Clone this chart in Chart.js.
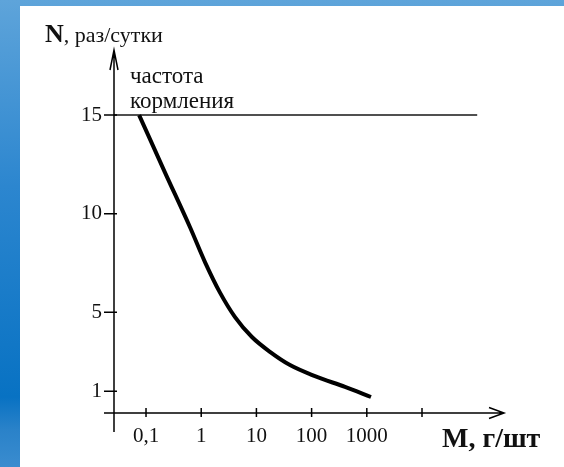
<!DOCTYPE html>
<html>
<head>
<meta charset="utf-8">
<script src="https://cdn.jsdelivr.net/npm/chart.js@4.4.1/dist/chart.umd.min.js"></script>
<style>
  html, body { margin: 0; padding: 0; }
  body {
    width: 564px; height: 467px; overflow: hidden; position: relative;
    background: linear-gradient(to bottom, #5ea4da 0%, #2c86cf 40%, #0872c3 85%, #2a82c9 92%, #3a8ccf 100%);
  }
  #wrap { position: absolute; left: 20px; top: 6px; width: 544px; height: 461px; background: #fff; }
</style>
</head>
<body>
<div id="wrap"><canvas id="chart" width="544" height="461"></canvas></div>
<script>
// Feeding frequency vs fish mass (log scale)
const massValues = [0.075, 0.22, 0.63, 1.17, 2.19, 4.1, 8.3, 17.6, 40.6, 115, 403, 1190];
const feedsPerDay = [15, 12.1, 9.3, 7.55, 6.0, 4.76, 3.75, 3.0, 2.33, 1.77, 1.22, 0.71];

// upper limit line "частота кормления"
const limitMass = [0.0263, 100000];
const limitFeeds = [15, 15];

const xTickValues = [0.1, 1, 10, 100, 1000, 10000];
const xTickLabels = ['0,1', '1', '10', '100', '1000', ''];
const yTickValues = [1, 5, 10, 15];
const yTickLabels = ['1', '5', '10', '15'];

const X_MIN = 0.0263, X_MAX = 305900;
const Y_MIN = -0.101, Y_MAX = 18.3;

const FONT = "'Liberation Serif', 'Times New Roman', serif";
const TEXT = '#111';

const axesPlugin = {
  id: 'axesPlugin',
  afterDraw(chart) {
    const ctx = chart.ctx;
    const a = chart.chartArea;
    const xs = chart.scales.x, ys = chart.scales.y;
    ctx.save();
    ctx.strokeStyle = '#000';
    ctx.lineWidth = 1.5;
    ctx.beginPath();
    // x axis + arrow
    ctx.moveTo(a.left - 10, a.bottom); ctx.lineTo(a.right, a.bottom);
    ctx.moveTo(a.right - 15, a.bottom - 5.5); ctx.lineTo(a.right, a.bottom); ctx.lineTo(a.right - 15, a.bottom + 5.5);
    // y axis + arrow
    ctx.moveTo(a.left, a.bottom + 19); ctx.lineTo(a.left, a.top);
    ctx.moveTo(a.left - 4, a.top + 20); ctx.lineTo(a.left, a.top); ctx.lineTo(a.left + 4, a.top + 20);
    // tick marks
    xs.ticks.forEach(t => {
      const px = xs.getPixelForValue(t.value);
      ctx.moveTo(px, a.bottom - 5); ctx.lineTo(px, a.bottom + 4);
    });
    ys.ticks.forEach(t => {
      const py = ys.getPixelForValue(t.value);
      ctx.moveTo(a.left - 10, py); ctx.lineTo(a.left + 3, py);
    });
    ctx.stroke();

    // titles
    ctx.fillStyle = TEXT;
    ctx.textBaseline = 'alphabetic';
    ctx.textAlign = 'left';
    ctx.font = 'bold 26px ' + FONT;
    ctx.fillText('N', 25, 36);
    const nw = ctx.measureText('N').width;
    ctx.font = '22px ' + FONT;
    ctx.fillText(', раз/сутки', 25 + nw, 36);

    ctx.font = '23px ' + FONT;
    ctx.fillText('частота', 110, 77);
    ctx.fillText('кормления', 110, 102);

    ctx.font = 'bold 28px ' + FONT;
    ctx.fillText('M, г/шт', 422, 441);
    ctx.restore();
  }
};

new Chart(document.getElementById('chart'), {
  type: 'line',
  data: {
    datasets: [
      {
        label: 'N',
        data: massValues.map((m, i) => ({ x: m, y: feedsPerDay[i] })),
        borderColor: '#000',
        borderWidth: 4,
        pointRadius: 0,
        cubicInterpolationMode: 'monotone'
      },
      {
        label: 'limit',
        data: limitMass.map((m, i) => ({ x: m, y: limitFeeds[i] })),
        borderColor: '#505050',
        borderWidth: 2,
        pointRadius: 0
      }
    ]
  },
  options: {
    responsive: false,
    animation: false,
    devicePixelRatio: 1,
    layout: { padding: { left: 0, top: 44, right: 60, bottom: 0 } },
    plugins: { legend: { display: false }, tooltip: { enabled: false } },
    scales: {
      x: {
        type: 'logarithmic',
        min: X_MIN,
        max: X_MAX,
        bounds: 'data',
        border: { display: false },
        grid: { display: false, drawTicks: false },
        afterBuildTicks: s => { s.ticks = xTickValues.map(v => ({ value: v })); },
        afterFit: s => { s.height = 54; },
        ticks: {
          autoSkip: false,
          maxRotation: 0,
          padding: 11,
          color: TEXT,
          font: { family: FONT, size: 21 },
          callback: (v, i) => xTickLabels[i]
        }
      },
      y: {
        type: 'linear',
        min: Y_MIN,
        max: Y_MAX,
        border: { display: false },
        grid: { display: false, drawTicks: false },
        afterBuildTicks: s => { s.ticks = yTickValues.map(v => ({ value: v })); },
        afterFit: s => { s.width = 94; },
        ticks: {
          padding: 12,
          color: TEXT,
          font: { family: FONT, size: 21 },
          callback: (v, i) => yTickLabels[i]
        }
      }
    }
  },
  plugins: [axesPlugin]
});
</script>
</body>
</html>
